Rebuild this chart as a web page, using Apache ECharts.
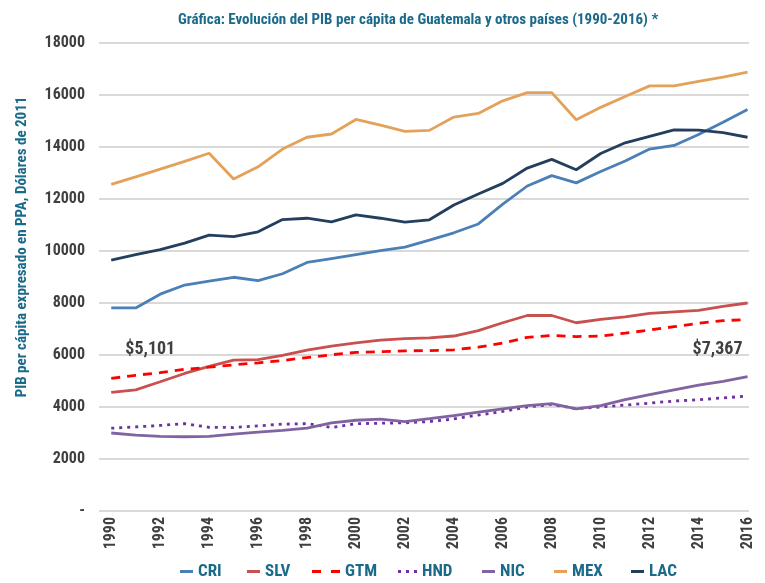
<!DOCTYPE html>
<html>
<head>
<meta charset="utf-8">
<script src="https://cdn.jsdelivr.net/npm/echarts@6/dist/echarts.min.js"></script>
<style>html,body{margin:0;padding:0;background:#fff}#c{width:765px;height:583px}</style>
</head>
<body>
<div id="c"></div>
<script>
const years = [1990,1991,1992,1993,1994,1995,1996,1997,1998,1999,2000,2001,2002,2003,2004,2005,2006,2007,2008,2009,2010,2011,2012,2013,2014,2015,2016];
const xTickLabels = [1990,1992,1994,1996,1998,2000,2002,2004,2006,2008,2010,2012,2014,2016];

const CRI = [7810,7810,8340,8690,8840,8990,8860,9125,9560,9710,9860,10010,10150,10420,10700,11040,11800,12500,12900,12620,13060,13460,13920,14060,14480,14950,15440];
const SLV = [4560,4660,4970,5290,5560,5800,5820,5990,6190,6340,6470,6570,6630,6660,6730,6940,7240,7520,7520,7240,7370,7470,7600,7660,7720,7870,8000];
const GTM = [5101,5220,5320,5450,5530,5620,5700,5790,5900,6010,6100,6125,6160,6170,6200,6300,6460,6680,6750,6710,6730,6840,6960,7090,7220,7320,7367];
const HND = [3185,3235,3290,3360,3220,3210,3275,3340,3360,3210,3360,3375,3390,3440,3540,3690,3830,4000,4100,3935,4000,4075,4150,4230,4280,4350,4420];
const NIC = [3000,2920,2870,2855,2870,2955,3030,3100,3185,3390,3490,3530,3440,3550,3670,3800,3925,4050,4130,3925,4050,4280,4480,4660,4840,4990,5170];
const MEX = [12560,12850,13150,13450,13760,12770,13240,13920,14375,14500,15060,14840,14600,14640,15150,15290,15775,16090,16090,15050,15525,15940,16350,16350,16525,16690,16880];
const LAC = [9650,9860,10050,10300,10610,10550,10740,11210,11260,11120,11390,11260,11110,11200,11770,12190,12600,13190,13525,13125,13750,14160,14410,14660,14650,14550,14375];

const title = 'Gráfica: Evolución del PIB per cápita de Guatemala y otros países (1990-2016) *';
const yName = 'PIB per cápita expresado en PPA, Dólares de 2011';

const FONT = "'Liberation Sans Narrow','Arial Narrow','Roboto Condensed','DejaVu Sans Condensed','Liberation Sans',sans-serif";
const TEAL = '#1b6a8a';
const GRAY = '#404040';

const ICON_SOLID = 'path://M0,0h13v3h-13z';
const ICON_DASH = 'path://M0,0h9v3h-9z M19,0h9v3h-9z';
const ICON_DOT = 'path://M0,0h3v3h-3z M8,0h3v3h-3z M16,0h3v3h-3z';

const seriesDefs = [
  {name:'CRI', data:CRI, color:'#4a80b6', type:'solid', icon:ICON_SOLID, w:13, left:180},
  {name:'SLV', data:SLV, color:'#c8504e', type:'solid', icon:ICON_SOLID, w:13, left:247},
  {name:'GTM', data:GTM, color:'#ff0000', type:[9,7], icon:ICON_DASH, w:28, left:312},
  {name:'HND', data:HND, color:'#7030a0', type:[3,5], icon:ICON_DOT, w:19, left:398},
  {name:'NIC', data:NIC, color:'#8064a2', type:'solid', icon:ICON_SOLID, w:13, left:482},
  {name:'MEX', data:MEX, color:'#e3a15a', type:'solid', icon:ICON_SOLID, w:13, left:554},
  {name:'LAC', data:LAC, color:'#243f5e', type:'solid', icon:ICON_SOLID, w:13, left:631}
];

const fmtMoney = v => '$' + v.toLocaleString('en-US');
const annLabel = {fontFamily: FONT, fontWeight: 'bold', fontSize: 18, color: GRAY};

const series = seriesDefs.map(s => {
  const ser = {
    name: s.name,
    type: 'line',
    symbol: 'none',
    showSymbol: false,
    lineStyle: {color: s.color, width: 2.8, type: s.type},
    itemStyle: {color: s.color},
    emphasis: {disabled: true},
    data: s.data.map((v, i) => [years[i], v])
  };
  if (s.name === 'GTM') {
    const n = s.data.length - 1;
    ser.markPoint = {
      symbol: 'circle', symbolSize: 1, silent: true,
      itemStyle: {color: 'rgba(0,0,0,0)'},
      data: [
        {coord: [years[0], s.data[0]], value: s.data[0],
         label: Object.assign({show: true, position: 'inside', offset: [39, -29], formatter: fmtMoney(s.data[0])}, annLabel)},
        {coord: [years[n], s.data[n]], value: s.data[n],
         label: Object.assign({show: true, position: 'inside', offset: [-30, 30], formatter: fmtMoney(s.data[n])}, annLabel)}
      ]
    };
  }
  return ser;
});

const legends = seriesDefs.map(s => ({
  data: [{name: s.name, icon: s.icon}],
  left: s.left,
  top: 563,
  itemWidth: s.w,
  itemHeight: 3,
  padding: 0,
  selectedMode: false,
  textStyle: {fontFamily: FONT, fontWeight: 'bold', fontSize: 17, color: TEAL}
}));

const chart = echarts.init(document.getElementById('c'), null, {renderer: 'canvas'});
chart.setOption({
  backgroundColor: '#ffffff',
  animation: false,
  title: {
    text: title, left: 173, top: 8,
    textStyle: {fontFamily: FONT, fontWeight: 'bold', fontSize: 15, color: TEAL}
  },
  legend: legends,
  graphic: [{
    type: 'text', x: 22, y: 247, rotation: Math.PI / 2,
    style: {text: yName, fill: TEAL, font: 'bold 15px ' + FONT, textAlign: 'center', textVerticalAlign: 'middle'}
  }],
  grid: {left: 99, right: 16, top: 43, bottom: 72, containLabel: false},
  xAxis: {
    type: 'value', min: 1989.5, max: 2016.06,
    axisLine: {show: false}, axisTick: {show: false}, splitLine: {show: false},
    axisLabel: {
      customValues: xTickLabels, rotate: 90, margin: 6,
      formatter: v => String(v),
      fontFamily: FONT, fontWeight: 'bold', fontSize: 16, color: GRAY
    }
  },
  yAxis: {
    type: 'value', min: 0, max: 18000, interval: 2000,
    axisLine: {show: false}, axisTick: {show: false},
    splitLine: {show: true, lineStyle: {color: '#d9d9d9', width: 2}},
    axisLabel: {
      margin: 14, formatter: v => v === 0 ? '-' : String(v),
      fontFamily: FONT, fontWeight: 'bold', fontSize: 16, color: GRAY
    }
  },
  series: series
});
</script>
</body>
</html>
